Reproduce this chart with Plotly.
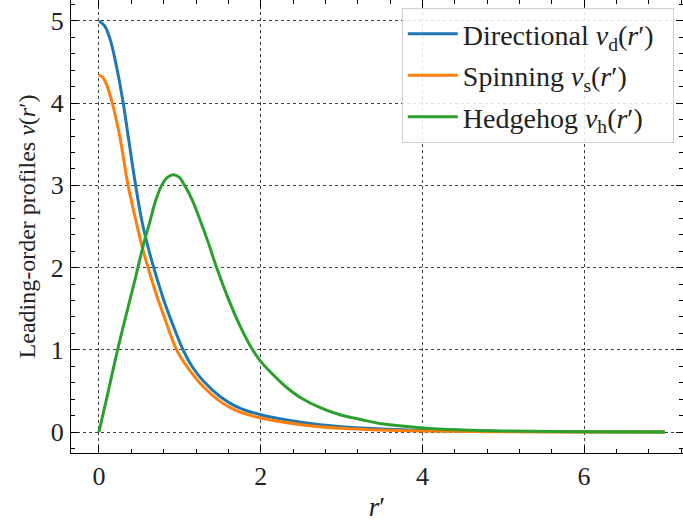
import plotly.graph_objects as go

# Directional profile v_d(r')
r_d = [0, 0.07, 0.14, 0.21, 0.30, 0.355, 0.45, 0.53, 0.62, 0.68, 0.8, 0.9, 1.04, 1.15, 1.29,
       1.5, 1.7, 2.0, 2.5, 3.0, 3.5, 4.0, 5.0, 6.0, 7.0]
v_d = [5.0, 4.94, 4.77, 4.48, 4.0, 3.64, 3.02, 2.57, 2.2, 1.99, 1.61, 1.34, 1.0, 0.8, 0.62,
       0.43, 0.31, 0.21, 0.12, 0.065, 0.037, 0.02, 0.006, 0.002, 0.0005]

# Spinning profile v_s(r')
r_s = [0, 0.05, 0.1, 0.165, 0.26, 0.36, 0.45, 0.535, 0.61, 0.7, 0.8, 0.96, 1.1, 1.29,
       1.5, 1.7, 2.0, 2.5, 3.0, 3.5, 4.0, 5.0, 6.0, 7.0]
v_s = [4.34, 4.31, 4.21, 4.0, 3.58, 3.0, 2.6, 2.25, 1.99, 1.70, 1.42, 1.0, 0.78, 0.55,
       0.37, 0.26, 0.17, 0.09, 0.045, 0.024, 0.012, 0.003, 0.001, 0.0003]

# Hedgehog profile v_h(r')
r_h = [0, 0.1, 0.23, 0.35, 0.445, 0.55, 0.63, 0.69, 0.775, 0.85, 0.92, 0.99, 1.06, 1.15,
       1.25, 1.35, 1.455, 1.6, 1.75, 1.9, 2.0, 2.12, 2.3, 2.49, 2.75, 2.98, 3.25, 3.5, 4.0,
       4.5, 5.0, 6.0, 7.0]
v_h = [0, 0.43, 1.0, 1.48, 1.85, 2.28, 2.56, 2.78, 3.0, 3.1, 3.13, 3.1, 3.0, 2.83,
       2.58, 2.31, 2.0, 1.62, 1.28, 1.0, 0.86, 0.73, 0.56, 0.42, 0.29, 0.21, 0.15, 0.1, 0.05,
       0.026, 0.013, 0.003, 0.0008]

names = ["Directional <i>v</i><sub>d</sub>(<i>r</i>′)  ",
         "Spinning <i>v</i><sub>s</sub>(<i>r</i>′)  ",
         "Hedgehog <i>v</i><sub>h</sub>(<i>r</i>′)  "]
colors = ["#1f77b4", "#ff7f0e", "#2ca02c"]

x_ticks = [0, 2, 4, 6]
y_ticks = [0, 1, 2, 3, 4, 5]

FONT = "Liberation Serif, DejaVu Serif, serif"

fig = go.Figure()
for i, (xs, ys) in enumerate([(r_d, v_d), (r_s, v_s), (r_h, v_h)]):
    fig.add_trace(go.Scatter(x=xs, y=ys, mode="lines", name=names[i],
                             legendgroup=str(i),
                             line=dict(color=colors[i], width=3, shape="spline", smoothing=1.0)))

axis_common = dict(
    showline=True, linecolor="black", linewidth=1.2, mirror="allticks",
    ticks="inside", ticklen=7, tickwidth=1, tickcolor="black",
    showgrid=True, gridcolor="rgba(0,0,0,0.75)", gridwidth=0.8, griddash="dot",
    zeroline=False, automargin=False,
    tickfont=dict(family=FONT, size=26, color="#222"),
)

fig.update_xaxes(**axis_common, range=[-0.346, 7.223], tickvals=x_ticks,
                 minor=dict(dtick=0.4, tick0=0, ticks="inside", ticklen=4, tickcolor="black", showgrid=False),
                 title=dict(text="<i>r</i>′", font=dict(family=FONT, size=27, color="#222"), standoff=10))
fig.update_yaxes(**axis_common, range=[-0.255, 5.255], tickvals=y_ticks,
                 ticklabelstandoff=1,
                 minor=dict(dtick=0.2, tick0=0, ticks="inside", ticklen=4, tickcolor="black", showgrid=False),
                 title=dict(text="Leading-order profiles <i>v</i>(<i>r</i>′)",
                            font=dict(family=FONT, size=24, color="#222"), standoff=8))

fig.update_layout(
    width=683, height=522,
    margin=dict(l=71, r=0, t=0, b=69),
    plot_bgcolor="white", paper_bgcolor="white",
    font=dict(family=FONT, size=26, color="#222"),
    legend=dict(x=0.985, y=0.982, xanchor="right", yanchor="top",
                bgcolor="rgba(255,255,255,0.85)", bordercolor="#d0d0d0", borderwidth=1,
                font=dict(family=FONT, size=28, color="#222"),
                traceorder="grouped", tracegroupgap=2, itemwidth=50),
    showlegend=True,
)

fig.write_html("out.html", config={"displayModeBar": False},
               post_script="document.body.style.margin='0';")
